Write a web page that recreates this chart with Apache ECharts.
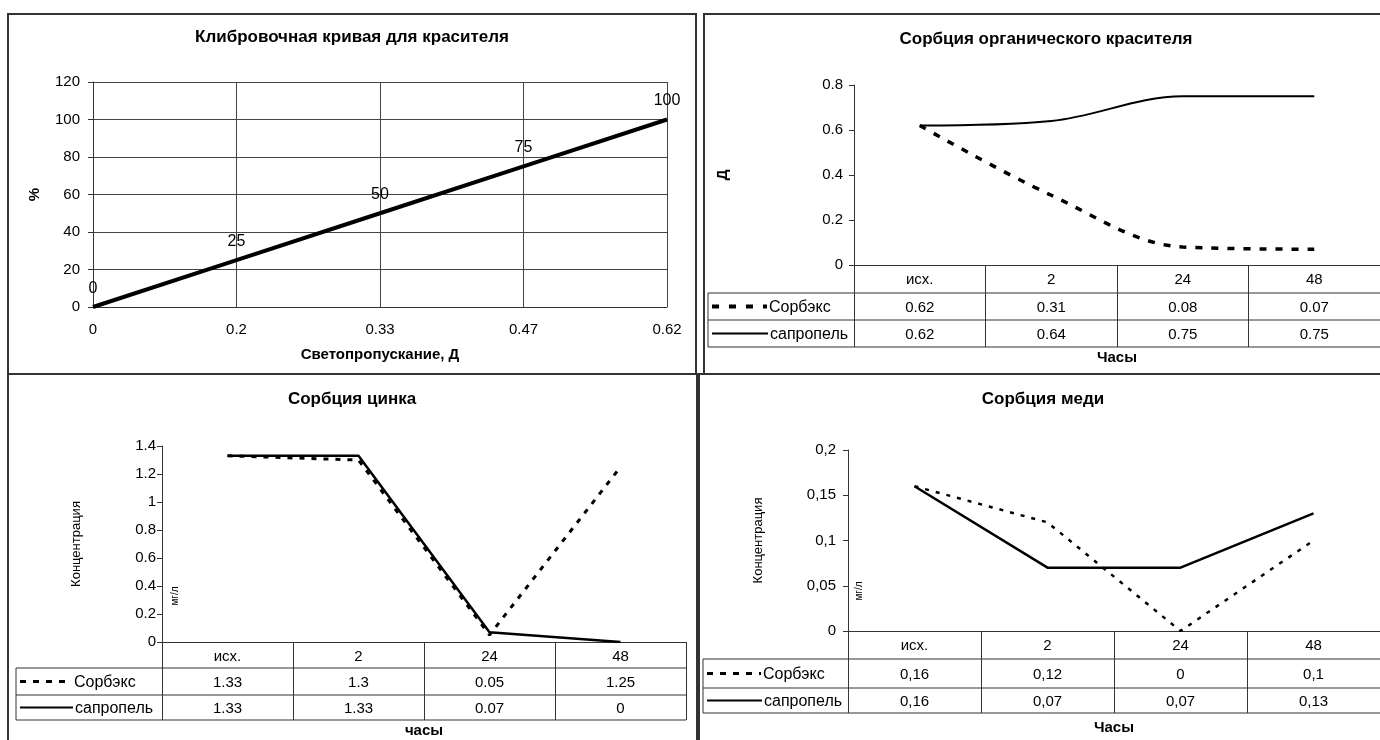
<!DOCTYPE html>
<html><head><meta charset="utf-8">
<script src="https://cdn.jsdelivr.net/npm/echarts@6/dist/echarts.min.js"></script>
<style>html,body{margin:0;padding:0;background:#fff}#c{width:1380px;height:740px}</style>
</head><body><div id="c"></div>
<script>
// ---- data ----
const calibX = ['0', '0.2', '0.33', '0.47', '0.62'];
const calibY = [0, 25, 50, 75, 100];
const timeCats = ['исх.', '2', '24', '48'];
const dyeSorbex = [0.62, 0.31, 0.08, 0.07];
const dyeSapropel = [0.62, 0.64, 0.75, 0.75];
const znSorbex = [1.33, 1.3, 0.05, 1.25];
const znSapropel = [1.33, 1.33, 0.07, 0];
const cuSorbex = [0.16, 0.12, 0, 0.1];
const cuSapropel = [0.16, 0.07, 0.07, 0.13];
const seriesNames = ['Сорбэкс', 'сапропель'];
const titles = ['Клибровочная кривая для красителя', 'Сорбция органического красителя', 'Сорбция цинка', 'Сорбция меди'];
const axisNames = { calibX: 'Светопропускание, Д', calibY: '%', dyeX: 'Часы', dyeY: 'Д', znX: 'часы', conc: 'Концентрация', cuX: 'Часы', unit: 'мг/л' };

const FONT = "'Liberation Sans', Arial, sans-serif";
const LC = '#333';
const comma = v => String(v).replace('.', ',');

const chart = echarts.init(document.getElementById('c'), null, { renderer: 'canvas' });

function yAx(grid, max, interval, name, nameGap, bold, margin, fmt) {
  return {
    type: 'value', gridIndex: grid, min: 0, max: max, interval: interval,
    axisLine: { show: true, lineStyle: { color: LC, width: 1 } },
    axisTick: { show: true, length: 5, lineStyle: { color: LC } },
    axisLabel: { color: '#000', fontSize: 15, fontFamily: FONT, margin: margin, formatter: fmt },
    splitLine: { show: grid === 0, lineStyle: { color: '#444', width: 1 } },
    name: name, nameLocation: 'middle', nameGap: nameGap, nameRotate: 90,
    nameTextStyle: { color: '#000', fontSize: bold ? 15 : 13, fontWeight: bold ? 'bold' : 'normal', fontFamily: FONT }
  };
}
function xCat(grid, tickLen, name, nameGap) {
  return {
    type: 'category', gridIndex: grid, data: timeCats, boundaryGap: true,
    axisLine: { show: true, lineStyle: { color: LC, width: 1 } },
    axisTick: { show: true, length: tickLen, lineStyle: { color: LC, width: 1 } },
    axisLabel: { color: '#000', fontSize: 15, fontFamily: FONT, margin: 7 },
    splitLine: { show: false },
    name: name, nameLocation: 'middle', nameGap: nameGap,
    nameTextStyle: { color: '#000', fontSize: 15, fontWeight: 'bold', fontFamily: FONT }
  };
}
function lineS(xi, data, name, width, dash, smooth) {
  return {
    type: 'line', name: name, xAxisIndex: xi, yAxisIndex: xi, data: data,
    smooth: smooth, symbol: 'none', silent: true,
    lineStyle: { color: '#000', width: width, type: dash || 'solid' }
  };
}

chart.setOption({
  animation: false,
  backgroundColor: '#fff',
  grid: [
    { left: 93, top: 82, width: 574, height: 225 },
    { left: 854, top: 85, width: 532, height: 180 },
    { left: 162, top: 446, width: 524, height: 196 },
    { left: 848, top: 450, width: 538, height: 181 }
  ],
  xAxis: [
    {
      type: 'category', gridIndex: 0, data: calibX, boundaryGap: false,
      axisLine: { show: true, lineStyle: { color: LC } },
      axisTick: { show: false },
      axisLabel: { color: '#000', fontSize: 15, fontFamily: FONT, margin: 15 },
      splitLine: { show: true, lineStyle: { color: '#444', width: 1 } },
      name: axisNames.calibX, nameLocation: 'middle', nameGap: 40,
      nameTextStyle: { color: '#000', fontSize: 15, fontWeight: 'bold', fontFamily: FONT }
    },
    xCat(1, 82, axisNames.dyeX, 85),
    xCat(2, 78, axisNames.znX, 81),
    xCat(3, 82, axisNames.cuX, 89)
  ],
  yAxis: [
    yAx(0, 120, 20, axisNames.calibY, 51, true, 13),
    yAx(1, 0.8, 0.2, axisNames.dyeY, 124, true, 11),
    yAx(2, 1.4, 0.2, axisNames.conc, 79, false, 6),
    yAx(3, 0.2, 0.05, axisNames.conc, 83, false, 12, comma)
  ],
  series: [
    {
      type: 'line', xAxisIndex: 0, yAxisIndex: 0, data: calibY, silent: true,
      symbol: 'circle', symbolSize: 1, itemStyle: { color: '#000' },
      lineStyle: { color: '#000', width: 4 },
      label: { show: true, position: 'top', distance: 10, color: '#000', fontSize: 16, fontFamily: FONT }
    },
    lineS(1, dyeSorbex, seriesNames[0], 3.5, [7, 9], 0.35),
    lineS(1, dyeSapropel, seriesNames[1], 2, null, 0.35),
    lineS(2, znSorbex, seriesNames[0], 3, [5, 7], false),
    lineS(2, znSapropel, seriesNames[1], 2.5, null, false),
    lineS(3, cuSorbex, seriesNames[0], 2.5, [4, 7], false),
    lineS(3, cuSapropel, seriesNames[1], 2.5, null, false)
  ]
});

// ---- graphics: panel frames, titles, data tables ----
const g = [];
function txt(x, y, text, size, bold, align, rot) {
  g.push({
    type: 'text', x: x, y: y, rotation: rot || 0, silent: true,
    style: {
      text: text, fill: '#000', font: (bold ? 'bold ' : '') + size + 'px ' + FONT,
      align: align || 'center', verticalAlign: 'middle',
      textAlign: align || 'center', textVerticalAlign: 'middle'
    }
  });
}
function ln(x1, y1, x2, y2, w, dash, color) {
  g.push({
    type: 'line', silent: true, shape: { x1: x1, y1: y1, x2: x2, y2: y2 },
    style: { stroke: color || LC, lineWidth: w || 1, lineDash: dash || null }
  });
}
function frame(x, y, w, h) {
  g.push({ type: 'rect', silent: true, shape: { x: x, y: y, width: w, height: h },
    style: { fill: null, stroke: '#333', lineWidth: 2 } });
}
frame(8, 14, 688, 360);
frame(704, 14, 690, 360);
frame(8, 374, 689, 380);
frame(699, 374, 695, 380);

txt(352, 37, titles[0], 17, true);
txt(1046, 39, titles[1], 17, true);
txt(352, 399, titles[2], 17, true);
txt(1043, 399, titles[3], 17, true);

txt(175, 596, axisNames.unit, 10, false, 'center', Math.PI / 2);
txt(859, 591, axisNames.unit, 10, false, 'center', Math.PI / 2);

function table(xi, legendLeft, hHead, h1, h2, s1, s2, fmt, dashSample, dashW, sampleLen) {
  const cx = timeCats.map((c, i) => chart.convertToPixel({ xAxisIndex: xi }, i));
  const band = cx[1] - cx[0];
  const right = cx[cx.length - 1] + band / 2;
  const y0 = chart.convertToPixel({ yAxisIndex: xi }, 0);
  const r1 = y0 + hHead, r2 = r1 + h1, r3 = r2 + h2;
  ln(legendLeft, r1, right, r1);
  ln(legendLeft, r2, right, r2);
  ln(legendLeft, r3, right, r3);
  ln(legendLeft, r1, legendLeft, r3);
  cx.forEach((x, i) => {
    txt(x, (r1 + r2) / 2 + 1, fmt(s1[i]), 15, false);
    txt(x, (r2 + r3) / 2 + 1, fmt(s2[i]), 15, false);
  });
  const sx = legendLeft + 4;
  ln(sx, (r1 + r2) / 2, sx + sampleLen, (r1 + r2) / 2, dashW, dashSample, '#000');
  ln(sx, (r2 + r3) / 2, sx + sampleLen + 1, (r2 + r3) / 2, 2, null, '#000');
  txt(sx + sampleLen + 2, (r1 + r2) / 2 + 1, seriesNames[0], 16, false, 'left');
  txt(sx + sampleLen + 3, (r2 + r3) / 2 + 1, seriesNames[1], 16, false, 'left');
}
table(1, 708, 28, 27, 27, dyeSorbex, dyeSapropel, v => String(v), [7, 10], 4, 55);
table(2, 16, 26, 27, 25, znSorbex, znSapropel, v => String(v), [6, 7], 3, 52);
table(3, 703, 28, 29, 25, cuSorbex, cuSapropel, comma, [6, 7], 3, 54);

chart.setOption({ graphic: { elements: g } });
</script>
</body></html>
